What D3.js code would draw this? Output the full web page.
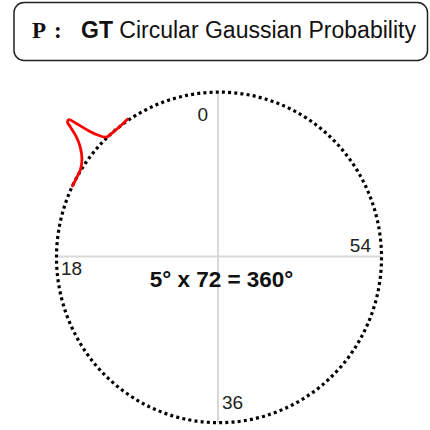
<!DOCTYPE html>
<html><head><meta charset="utf-8">
<script src="https://cdn.jsdelivr.net/npm/d3@7"></script>
<style>html,body{margin:0;padding:0;background:#fff;}</style>
</head><body>
<svg id="chart" width="430" height="430"></svg>
<script>
// ---- data ----
const binCount = 72;            // 5° x 72 = 360°
const tickLabels = [0, 18, 36, 54];
// Gaussian probability curve: bin index (fractional) and normalised value
const curveIndex = [6.8, 7.44, 8.24, 8.72, 9.08, 9.3, 9.46, 9.58, 9.74, 9.84, 10.06, 10.4, 10.96, 11.6, 12.24, 12.88];
const curveValue = [0.03, 0.0, 0.0, 0.02, 0.24, 0.5, 0.79, 0.99, 0.98, 0.85, 0.57, 0.34, 0.13, 0.02, 0.0, 0.0];
const titleParts = ["P", ":", "GT", " Circular Gaussian Probability"];
const centerText = "5° x 72 = 360°";

// ---- layout ----
const svg = d3.select("#chart");
const cx = 219, cy = 257.4, rx = 162.5, ry = 165.3;
const ang = d3.scaleLinear().domain([0, binCount]).range([0, 2 * Math.PI]); // CCW from top
const rad = d3.scaleLinear().domain([0, 1]).range([rx, rx + 40]);
const k = ry / rx;
const px = (i, v) => cx - rad(v) * Math.sin(ang(i));
const py = (i, v) => cy - rad(v) * k * Math.cos(ang(i));

// title box
svg.append("rect").attr("x", 14).attr("y", 2.5).attr("width", 413.5).attr("height", 58)
  .attr("rx", 10).attr("fill", "#fff").attr("stroke", "#222").attr("stroke-width", 1.5);
const t = svg.append("text").attr("y", 38).attr("font-size", 23).attr("fill", "#111");
t.append("tspan").attr("x", 32).attr("font-family", "Liberation Serif, Times New Roman, serif").attr("font-weight", "bold").text(titleParts[0]);
t.append("tspan").attr("x", 54).attr("font-family", "Liberation Serif, Times New Roman, serif").attr("font-weight", "bold").text(titleParts[1]);
t.append("tspan").attr("x", 81).attr("font-family", "Liberation Sans, Arial, sans-serif").attr("font-weight", "bold").text(titleParts[2]);
t.append("tspan").attr("font-family", "Liberation Sans, Arial, sans-serif").text(titleParts[3]);

// cross lines
svg.append("line").attr("x1", cx - rx).attr("x2", cx + rx).attr("y1", 256.5).attr("y2", 256.5)
  .attr("stroke", "#d9d9d9").attr("stroke-width", 2);
svg.append("line").attr("x1", 218).attr("x2", 218).attr("y1", cy - ry).attr("y2", cy + ry)
  .attr("stroke", "#d9d9d9").attr("stroke-width", 2);

// dotted circle
svg.append("ellipse").attr("cx", cx).attr("cy", cy).attr("rx", rx).attr("ry", ry)
  .attr("fill", "none").attr("stroke", "#000").attr("stroke-width", 3.2)
  .attr("stroke-dasharray", "3,3.2");

// tick labels
const labelPos = {0: [208, 121, "end"], 18: [61, 275, "start"], 36: [222, 409, "start"], 54: [371, 252, "end"]};
svg.selectAll("text.tick").data(tickLabels).enter().append("text").attr("class", "tick")
  .attr("x", d => labelPos[d][0]).attr("y", d => labelPos[d][1])
  .attr("text-anchor", d => labelPos[d][2])
  .attr("font-family", "Liberation Sans, Arial, sans-serif").attr("font-size", 19).attr("fill", "#222")
  .text(d => d);

// center text
svg.append("text").attr("x", 221.5).attr("y", 287).attr("text-anchor", "middle")
  .attr("font-family", "Liberation Sans, Arial, sans-serif").attr("font-weight", "bold")
  .attr("font-size", 22.5).attr("fill", "#111").text(centerText);

// gaussian curve
const pts = curveIndex.map((c, i) => [px(c, curveValue[i]), py(c, curveValue[i])]);
svg.append("path").attr("d", d3.line().curve(d3.curveCatmullRom.alpha(0.5))(pts))
  .attr("fill", "none").attr("stroke", "#ff0000").attr("stroke-width", 2.8)
  .attr("stroke-linecap", "round").attr("stroke-linejoin", "round");
</script>
</body></html>
